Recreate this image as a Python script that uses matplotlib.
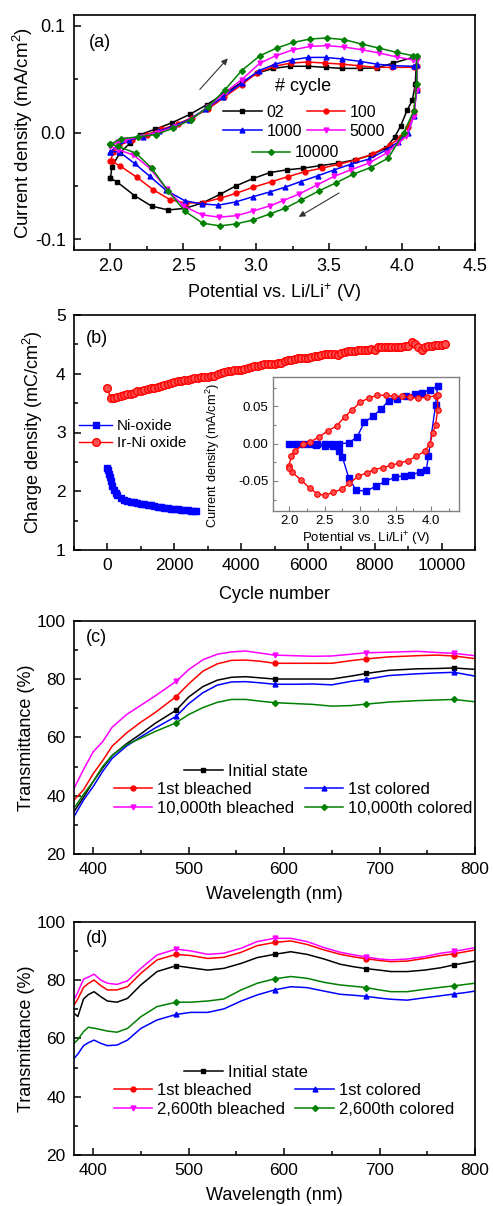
import matplotlib
matplotlib.use("Agg")
import matplotlib.pyplot as plt
from matplotlib.ticker import MultipleLocator, FormatStrFormatter

plt.rcParams["font.family"] = ["Liberation Sans", "DejaVu Sans"]
plt.rcParams["axes.unicode_minus"] = False
plt.rcParams["mathtext.fontset"] = "custom"
plt.rcParams["mathtext.rm"] = "Liberation Sans"
plt.rcParams["mathtext.default"] = "regular"

# ---------------- (a) CV loops for several cycles ----------------
cycle_labels = ["02", "100", "1000", "5000", "10000"]

v_02 = [2.0, 2.01, 2.065, 2.134, 2.203, 2.306, 2.42, 2.545, 2.66, 2.775, 2.9, 3.003, 3.117, 3.231,
        3.357, 3.476, 3.59, 3.711, 3.826, 3.94, 4.077, 4.1,
        4.09, 4.07, 4.035, 3.99, 3.95, 3.89, 3.79, 3.675, 3.56, 3.44, 3.322, 3.208, 3.094, 2.98,
        2.86, 2.75, 2.63, 2.511, 2.397, 2.283, 2.164, 2.043, 2.0]
i_02 = [-0.043, -0.032, -0.019, -0.010, -0.002, 0.003, 0.009, 0.017, 0.026, 0.036, 0.047, 0.0555,
        0.060, 0.062, 0.062, 0.061, 0.060, 0.060, 0.0605, 0.065, 0.0705, 0.071,
        0.045, 0.030, 0.021, 0.006, -0.004, -0.0146, -0.021, -0.0256, -0.0287, -0.031, -0.0334,
        -0.035, -0.0375, -0.043, -0.050, -0.058, -0.066, -0.071, -0.0725, -0.069, -0.059, -0.046,
        -0.043]

v_100 = [2.0, 2.02, 2.06, 2.15, 2.25, 2.35, 2.46, 2.56, 2.67, 2.78, 2.9, 3.007, 3.124, 3.238,
         3.352, 3.471, 3.586, 3.705, 3.82, 3.934, 4.08, 4.1,
         4.1, 4.08, 4.04, 3.99, 3.92, 3.80, 3.685, 3.57, 3.45, 3.335, 3.22, 3.106, 2.98, 2.86,
         2.75, 2.637, 2.518, 2.41, 2.294, 2.18, 2.065, 2.009]
i_100 = [-0.027, -0.018, -0.012, -0.007, -0.002, 0.003, 0.008, 0.014, 0.022, 0.033, 0.0447, 0.056,
         0.062, 0.065, 0.066, 0.065, 0.064, 0.0625, 0.061, 0.061, 0.061, 0.062,
         0.040, 0.020, 0.005, -0.004, -0.0115, -0.020, -0.0256, -0.0296, -0.0334, -0.0366,
         -0.0412, -0.046, -0.0512, -0.057, -0.0616, -0.0656, -0.066, -0.063, -0.0537, -0.0418,
         -0.0312, -0.027]

v_1000 = [2.0, 2.05, 2.13, 2.22, 2.33, 2.43, 2.54, 2.65, 2.77, 2.9, 3.02, 3.13, 3.244, 3.357,
          3.476, 3.59, 3.711, 3.826, 3.94, 4.08, 4.1,
          4.1, 4.08, 4.04, 3.97, 3.894, 3.77, 3.65, 3.535, 3.42, 3.306, 3.197, 3.094, 2.98, 2.86,
          2.74, 2.626, 2.511, 2.38, 2.27, 2.165, 2.06, 2.0]
i_1000 = [-0.018, -0.012, -0.007, -0.004, 0.001, 0.006, 0.012, 0.022, 0.033, 0.0463, 0.058, 0.064,
          0.068, 0.0703, 0.0703, 0.0688, 0.0666, 0.064, 0.0625, 0.062, 0.063,
          0.040, 0.015, 0.0, -0.009, -0.0162, -0.025, -0.0296, -0.035, -0.0406, -0.0459, -0.0512,
          -0.0556, -0.060, -0.065, -0.068, -0.0668, -0.064, -0.054, -0.041, -0.029, -0.018, -0.018]

v_5000 = [2.0, 2.05, 2.1, 2.2, 2.32, 2.44, 2.55, 2.67, 2.79, 2.9, 3.025, 3.135, 3.254, 3.37,
          3.483, 3.602, 3.723, 3.842, 3.963, 4.077, 4.1,
          4.1, 4.08, 4.03, 3.974, 3.894, 3.77, 3.648, 3.535, 3.418, 3.295, 3.18, 3.094, 2.98,
          2.866, 2.745, 2.626, 2.5, 2.385, 2.27, 2.157, 2.05, 2.0]
i_5000 = [-0.013, -0.009, -0.007, -0.004, 0.0, 0.005, 0.012, 0.024, 0.038, 0.0494, 0.065, 0.0719,
          0.0775, 0.0806, 0.0813, 0.080, 0.0775, 0.0744, 0.0707, 0.068, 0.068,
          0.040, 0.015, -0.003, -0.010, -0.0193, -0.0287, -0.035, -0.041, -0.049, -0.0575,
          -0.064, -0.0687, -0.0734, -0.0778, -0.0793, -0.077, -0.0687, -0.053, -0.0334, -0.021,
          -0.016, -0.013]

v_10000 = [2.0, 2.07, 2.19, 2.31, 2.43, 2.55, 2.67, 2.785, 2.9, 3.025, 3.14, 3.254, 3.37, 3.483,
           3.604, 3.723, 3.842, 3.963, 4.077, 4.1,
           4.1, 4.08, 4.01, 3.905, 3.785, 3.665, 3.55, 3.43, 3.31, 3.197, 3.094, 2.98, 2.861,
           2.751, 2.633, 2.511, 2.397, 2.283, 2.175, 2.05, 2.0]
i_10000 = [-0.011, -0.006, -0.004, -0.002, 0.004, 0.012, 0.024, 0.040, 0.058, 0.0719, 0.079,
           0.0844, 0.0875, 0.0885, 0.0869, 0.0828, 0.079, 0.075, 0.0719, 0.072,
           0.045, 0.020, -0.0006, -0.024, -0.0328, -0.039, -0.0469, -0.0547, -0.0631, -0.0709,
           -0.0762, -0.0818, -0.0856, -0.0874, -0.0849, -0.0738, -0.055, -0.0334, -0.0193,
           -0.013, -0.011]

cv_potentials = [v_02, v_100, v_1000, v_5000, v_10000]
cv_currents = [i_02, i_100, i_1000, i_5000, i_10000]
cv_colors = ["black", "red", "blue", "magenta", "green"]
cv_markers = ["s", "o", "^", "v", "D"]

# ---------------- (b) charge density vs cycle ----------------
ni_cycles = [0, 25, 50, 75, 100, 150, 200, 250, 300, 400, 500, 600, 700, 800, 900, 1000, 1100,
             1200, 1300, 1400, 1500, 1600, 1700, 1800, 1900, 2000, 2100, 2200, 2300, 2400, 2500,
             2600, 2650]
ni_charge = [2.40, 2.36, 2.30, 2.24, 2.18, 2.09, 2.02, 1.97, 1.93, 1.88, 1.85, 1.83, 1.82, 1.81,
             1.80, 1.79, 1.78, 1.77, 1.76, 1.75, 1.74, 1.73, 1.72, 1.71, 1.70, 1.69, 1.69, 1.68,
             1.68, 1.68, 1.67, 1.67, 1.67]

irni_cycles = list(range(0, 10101, 100))
irni_charge = [3.75, 3.58, 3.59, 3.60, 3.62, 3.63, 3.65, 3.66, 3.68, 3.70,
               3.71, 3.72, 3.74, 3.75, 3.76, 3.78, 3.80, 3.81, 3.83, 3.85,
               3.86, 3.87, 3.88, 3.89, 3.90, 3.91, 3.92, 3.93, 3.94, 3.94,
               3.95, 3.96, 3.97, 3.99, 4.01, 4.03, 4.04, 4.05, 4.06, 4.07,
               4.07, 4.08, 4.10, 4.12, 4.13, 4.14, 4.15, 4.16, 4.17, 4.17,
               4.17, 4.18, 4.19, 4.21, 4.23, 4.24, 4.25, 4.26, 4.26, 4.26,
               4.26, 4.28, 4.30, 4.31, 4.32, 4.33, 4.34, 4.34, 4.33, 4.32,
               4.35, 4.37, 4.38, 4.39, 4.39, 4.40, 4.40, 4.41, 4.41, 4.42,
               4.41, 4.45, 4.46, 4.45, 4.45, 4.45, 4.46, 4.46, 4.46, 4.47,
               4.48, 4.54, 4.50, 4.45, 4.41, 4.46, 4.48, 4.48, 4.49, 4.49,
               4.49, 4.50]

# inset CVs
ni_cv_v = [2.0, 2.1, 2.2, 2.3, 2.4, 2.5, 2.6, 2.7, 2.84, 2.955, 3.06, 3.18, 3.3, 3.4, 3.52,
           3.64, 3.77, 3.87, 3.98, 4.09,
           4.06, 3.96, 3.93, 3.84, 3.72, 3.61, 3.49, 3.35, 3.22, 3.08, 2.94, 2.84, 2.75, 2.7,
           2.62, 2.5, 2.38]
ni_cv_i = [0.0, 0.0, 0.0, 0.0, 0.0, 0.0, 0.0, 0.0, 0.001, 0.009, 0.0286, 0.037, 0.047, 0.058,
           0.060, 0.064, 0.0668, 0.068, 0.0726, 0.077,
           0.052, -0.017, -0.035, -0.038, -0.042, -0.043, -0.045, -0.0507, -0.057, -0.064,
           -0.062, -0.046, -0.018, -0.0094, -0.003, -0.003, -0.002]

irni_cv_v = [2.0, 2.03, 2.08, 2.2, 2.29, 2.42, 2.55, 2.67, 2.78, 2.89, 3.0, 3.12, 3.24, 3.36,
             3.47, 3.59, 3.7, 3.82, 3.94, 4.07, 4.09,
             4.09, 4.06, 4.02, 3.98, 3.91, 3.79, 3.67, 3.55, 3.44, 3.32, 3.2, 3.09, 2.97, 2.85,
             2.74, 2.62, 2.5, 2.4, 2.29, 2.174, 2.048, 2.0]
irni_cv_i = [-0.030, -0.017, -0.010, -0.001, 0.002, 0.009, 0.0175, 0.024, 0.036, 0.0457, 0.0555,
             0.0614, 0.065, 0.065, 0.0636, 0.0636, 0.0623, 0.0614, 0.0623, 0.0645, 0.066,
             0.045, 0.025, 0.014, 0.0, -0.010, -0.017, -0.023, -0.026, -0.029, -0.032, -0.035,
             -0.039, -0.044, -0.053, -0.061, -0.0654, -0.0695, -0.0676, -0.0596, -0.0493,
             -0.0386, -0.032]

# ---------------- (c) transmittance, Ir-Ni oxide ----------------
wl_c = [380, 390, 400, 410, 420, 435, 450, 465, 487, 500, 515, 530, 545, 560, 575, 590, 610,
        630, 650, 670, 686, 710, 740, 760, 778, 800]
c_initial = [34.5, 39.5, 44.8, 49.5, 53.8, 57.8, 61.2, 64.8, 69.3, 73.8, 77.4, 79.6, 80.6, 80.8,
             80.4, 80.0, 80.0, 80.0, 80.0, 81.0, 81.9, 83.0, 83.5, 83.6, 83.8, 83.3]
c_bleach1 = [38.5, 42.0, 47.5, 52.0, 57.0, 61.5, 65.2, 68.5, 74.0, 78.3, 82.7, 85.2, 86.4, 86.5,
             86.1, 85.4, 85.4, 85.4, 85.4, 86.3, 86.9, 87.6, 88.0, 88.2, 87.9, 87.0]
c_color1 = [32.8, 38.5, 43.1, 48.3, 52.8, 57.0, 60.2, 63.2, 67.2, 71.5, 75.3, 77.9, 79.0, 79.1,
            78.7, 78.2, 78.2, 78.3, 78.0, 79.2, 79.9, 81.2, 81.8, 82.1, 82.3, 81.0]
c_bleach_n = [42.5, 49.0, 55.0, 58.5, 63.5, 67.8, 71.0, 74.2, 79.2, 83.2, 86.6, 88.5, 89.3, 89.6,
              88.9, 88.2, 88.0, 87.8, 87.9, 88.5, 89.0, 89.2, 89.5, 89.1, 88.8, 88.0]
c_color_n = [35.7, 40.5, 44.8, 50.0, 53.8, 57.5, 59.7, 62.0, 65.0, 67.8, 70.2, 72.0, 73.0, 73.0,
             72.4, 71.9, 71.6, 71.3, 70.7, 70.9, 71.4, 72.1, 72.6, 72.8, 73.0, 72.2]
c_labels = ["Initial state", "1st bleached", "1st colored", "10,000th bleached", "10,000th colored"]

# ---------------- (d) transmittance, Ni oxide ----------------
wl_d = [380, 384, 390, 395, 401, 408, 415, 425, 436, 450, 467, 487, 502, 520, 537, 555, 572,
        590, 607, 624, 642, 659, 672, 686, 700, 712, 729, 747, 764, 778, 790, 800]
d_initial = [68.6, 67.5, 73.5, 75.0, 76.0, 74.3, 72.8, 72.4, 73.7, 78.3, 82.9, 84.9, 84.2, 83.4,
             84.0, 85.7, 87.7, 88.8, 89.7, 88.8, 87.2, 85.4, 84.6, 83.9, 83.4, 82.9, 82.9, 83.4,
             84.2, 85.2, 85.9, 86.5]
d_bleach1 = [71.4, 73.5, 77.5, 78.8, 80.0, 78.1, 76.6, 76.6, 77.7, 82.3, 86.9, 88.8, 88.4, 87.4,
             87.8, 89.5, 91.8, 92.9, 93.4, 92.2, 90.3, 88.8, 88.0, 87.3, 86.7, 86.3, 86.5, 87.4,
             88.4, 89.0, 89.7, 90.3]
d_color1 = [53.1, 54.6, 57.5, 58.5, 59.4, 58.3, 57.5, 57.7, 59.4, 63.4, 66.3, 68.2, 68.9, 68.9,
            70.1, 72.8, 74.9, 76.6, 77.7, 77.4, 76.2, 75.1, 74.8, 74.4, 73.8, 73.4, 73.1, 73.9,
            74.6, 75.2, 75.7, 76.2]
d_bleach_n = [73.2, 75.8, 80.3, 81.0, 82.0, 80.0, 78.9, 78.5, 79.7, 84.0, 88.6, 90.6, 90.0, 88.8,
              89.2, 90.9, 93.2, 94.3, 94.3, 93.2, 91.1, 89.5, 88.7, 87.9, 87.2, 86.9, 87.2, 88.0,
              89.2, 89.8, 90.5, 91.1]
d_color_n = [58.3, 59.6, 62.3, 63.8, 63.5, 63.0, 62.5, 62.1, 63.4, 67.4, 70.9, 72.4, 72.4, 72.8,
             73.5, 76.6, 78.9, 80.4, 81.2, 80.6, 79.2, 78.3, 77.9, 77.4, 76.6, 76.0, 76.0, 76.8,
             77.5, 78.0, 78.5, 78.9]
d_labels = ["Initial state", "1st bleached", "1st colored", "2,600th bleached", "2,600th colored"]

trans_colors = ["black", "red", "blue", "magenta", "green"]
trans_markers = ["s", "o", "^", "v", "D"]
marker_wl = [487, 590, 686, 778]

W, H = 493, 1206
fig = plt.figure(figsize=(W / 100, H / 100), dpi=100)


def rect(left, top, right, bottom):
    return [left / W, 1 - bottom / H, (right - left) / W, (bottom - top) / H]


def style_axes(ax, size=12.5):
    for s in ax.spines.values():
        s.set_linewidth(1.2)
    ax.tick_params(which="both", direction="in", top=False, right=False,
                   labelsize=size, width=1.1, pad=6)
    ax.tick_params(which="major", length=5)
    ax.tick_params(which="minor", length=3)


# ---- (a)
ax_a = fig.add_axes(rect(74, 15, 475, 250))
for v, cur, col, mk, lab in zip(cv_potentials, cv_currents, cv_colors, cv_markers, cycle_labels):
    ax_a.plot(v, cur, color=col, marker=mk, ms=3.5 if mk != "D" else 3, lw=1.1, label=lab)
ax_a.set_xlim(1.75, 4.5)
ax_a.set_ylim(-0.11, 0.11)
ax_a.xaxis.set_major_locator(MultipleLocator(0.5))
ax_a.xaxis.set_minor_locator(MultipleLocator(0.25))
ax_a.yaxis.set_major_locator(MultipleLocator(0.1))
ax_a.yaxis.set_minor_locator(MultipleLocator(0.05))
ax_a.xaxis.set_major_formatter(FormatStrFormatter("%.1f"))
ax_a.yaxis.set_major_formatter(FormatStrFormatter("%.1f"))
style_axes(ax_a, 13)
ax_a.set_xlabel("Potential vs. Li/Li$^{+}$ (V)", fontsize=13, labelpad=4)
ax_a.set_ylabel("Current density (mA/cm$^{2}$)", fontsize=13.5, labelpad=0)
ax_a.text(0.037, 0.885, "(a)", transform=ax_a.transAxes, fontsize=13, va="center")
ax_a.annotate("", xy=(2.817, 0.0713), xytext=(2.6, 0.0384),
              arrowprops=dict(arrowstyle="-|>", color="#333333", lw=0.8, mutation_scale=9))
ax_a.annotate("", xy=(3.275, -0.0803), xytext=(3.584, -0.0553),
              arrowprops=dict(arrowstyle="-|>", color="#333333", lw=0.8, mutation_scale=9))
ax_a.text(0.57, 0.695, "# cycle", transform=ax_a.transAxes, fontsize=13, ha="center",
          va="center")
h, l = ax_a.get_legend_handles_labels()
order = [0, 2, 1, 3]
leg1 = ax_a.legend([h[k] for k in order], [l[k] for k in order], ncol=2,
                   loc="center left", bbox_to_anchor=(0.372, 0.545), frameon=False,
                   fontsize=11.5, handlelength=2.4, handletextpad=0.3,
                   columnspacing=0.3, labelspacing=0.25, borderpad=0, borderaxespad=0)
ax_a.add_artist(leg1)
ax_a.legend([h[4]], [l[4]], loc="center left", bbox_to_anchor=(0.443, 0.414), frameon=False,
            fontsize=11.5, handlelength=2.4, handletextpad=0.3, borderpad=0, borderaxespad=0)

# ---- (b)
ax_b = fig.add_axes(rect(74, 315, 475, 550))
ax_b.plot(ni_cycles, ni_charge, color="blue", marker="s", ms=5, lw=1, label="Ni-oxide")
ax_b.plot(irni_cycles, irni_charge, color="red", marker="o", ms=5.5, mfc="#ff5050", mec="red",
          mew=1, lw=1, label="Ir-Ni oxide")
ax_b.set_xlim(-1000, 11000)
ax_b.set_ylim(1, 5)
ax_b.xaxis.set_major_locator(MultipleLocator(2000))
ax_b.xaxis.set_minor_locator(MultipleLocator(1000))
ax_b.yaxis.set_major_locator(MultipleLocator(1))
ax_b.yaxis.set_minor_locator(MultipleLocator(0.5))
style_axes(ax_b, 12.5)
ax_b.set_xlabel("Cycle number", fontsize=13, labelpad=9)
ax_b.set_ylabel("Charge density (mC/cm$^{2}$)", fontsize=13, labelpad=8)
ax_b.text(0.03, 0.90, "(b)", transform=ax_b.transAxes, fontsize=13, va="center")
ax_b.legend(loc="center left", bbox_to_anchor=(0.012, 0.49), frameon=False, fontsize=11,
            handlelength=2.2, handletextpad=0.3, labelspacing=0.2, borderpad=0,
            borderaxespad=0, numpoints=1)

ax_in = fig.add_axes(rect(272.7, 376.7, 459, 510.7))
ax_in.plot(ni_cv_v, ni_cv_i, color="blue", marker="s", ms=4, lw=1)
ax_in.plot(irni_cv_v, irni_cv_i, color="red", marker="o", ms=4, mfc="#ff5050", mec="red",
           mew=0.8, lw=1)
ax_in.set_xlim(1.77, 4.39)
ax_in.set_ylim(-0.09, 0.09)
ax_in.xaxis.set_major_locator(MultipleLocator(0.5))
ax_in.xaxis.set_minor_locator(MultipleLocator(0.25))
ax_in.yaxis.set_major_locator(MultipleLocator(0.05))
ax_in.yaxis.set_minor_locator(MultipleLocator(0.025))
ax_in.xaxis.set_major_formatter(FormatStrFormatter("%.1f"))
ax_in.yaxis.set_major_formatter(FormatStrFormatter("%.2f"))
for s in ax_in.spines.values():
    s.set_color("#808080")
    s.set_linewidth(1)
ax_in.tick_params(which="both", direction="in", top=False, right=False, labelsize=9.5,
                  width=0.8, pad=3, color="#808080")
ax_in.tick_params(which="major", length=3.5)
ax_in.tick_params(which="minor", length=2)
ax_in.set_xlabel("Potential vs. Li/Li$^{+}$ (V)", fontsize=9.5, labelpad=2)
ax_in.set_ylabel("Current density (mA/cm$^{2}$)", fontsize=9.2)
ax_in.yaxis.set_label_coords(-0.27, 0.41)


# ---- (c) and (d)
def trans_panel(top, bottom, wl, series, labels, tag):
    ax = fig.add_axes(rect(74, top, 475, bottom))
    idx = [wl.index(w) for w in marker_wl]
    lines = []
    for y, col, mk, lab in zip(series, trans_colors, trans_markers, labels):
        ms = 3 if mk == "D" else 3.5
        ln, = ax.plot(wl, y, color=col, marker=mk, ms=ms, lw=1.1, markevery=idx, label=lab)
        lines.append(ln)
    ax.set_xlim(380, 800)
    ax.set_ylim(20, 100)
    ax.xaxis.set_major_locator(MultipleLocator(100))
    ax.xaxis.set_minor_locator(MultipleLocator(50))
    ax.yaxis.set_major_locator(MultipleLocator(20))
    ax.yaxis.set_minor_locator(MultipleLocator(10))
    style_axes(ax, 12.5)
    ax.set_xlabel("Wavelength (nm)", fontsize=13, labelpad=6)
    ax.set_ylabel("Transmittance (%)", fontsize=13, labelpad=1)
    ax.text(0.03, 0.93, tag, transform=ax.transAxes, fontsize=13, va="center")
    kw = dict(frameon=False, fontsize=12, handlelength=2.3, handletextpad=0.3,
              labelspacing=0.25, borderpad=0, borderaxespad=0)
    leg_top = ax.legend([lines[0]], [labels[0]], loc="center left",
                        bbox_to_anchor=(0.275, 0.353), **kw)
    ax.add_artist(leg_top)
    order = [1, 3, 2, 4]
    ax.legend([lines[k] for k in order], [labels[k] for k in order], ncol=2,
              loc="upper left", bbox_to_anchor=(0.1, 0.31), columnspacing=0.6, **kw)
    return ax


trans_panel(620.7, 854, wl_c, [c_initial, c_bleach1, c_color1, c_bleach_n, c_color_n],
            c_labels, "(c)")
trans_panel(921.7, 1155, wl_d, [d_initial, d_bleach1, d_color1, d_bleach_n, d_color_n],
            d_labels, "(d)")

fig.savefig("out.png", dpi=100)
